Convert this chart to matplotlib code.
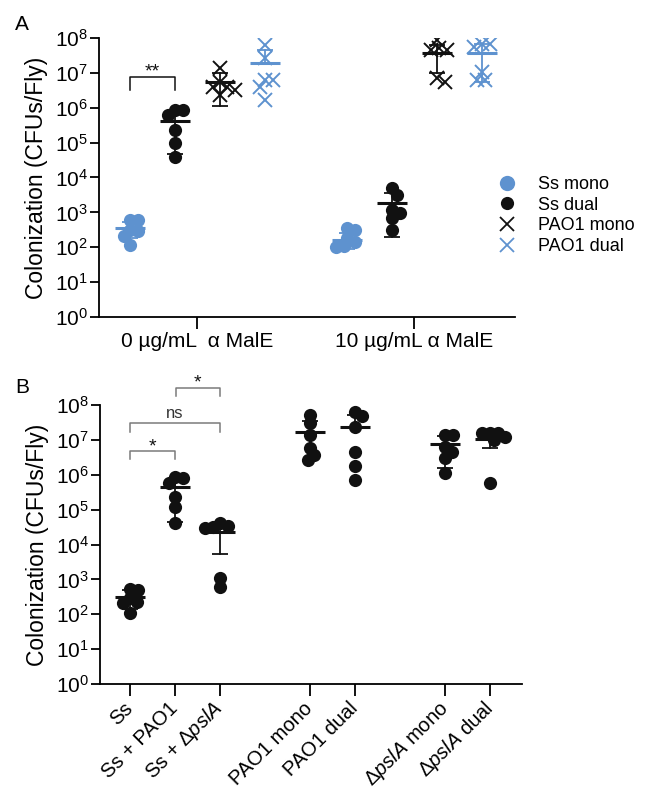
import numpy as np
import matplotlib
matplotlib.use('Agg')
import matplotlib.pyplot as plt
from matplotlib.lines import Line2D
from matplotlib.ticker import FixedLocator, NullLocator, FuncFormatter

plt.rcParams['font.family'] = ['Liberation Sans', 'DejaVu Sans']
plt.rcParams['mathtext.fontset'] = 'custom'
plt.rcParams['mathtext.rm'] = 'Liberation Sans'
plt.rcParams['mathtext.it'] = 'Liberation Sans:italic'
plt.rcParams['mathtext.bf'] = 'Liberation Sans:bold'

nan = float('nan')
BLUE = '#5e92cf'
BLACK = '#111111'

# ---- Panel A data (CFUs/fly), first list = 0 ug/mL, second = 10 ug/mL
a_conditions = ['0 µg/mL  α MalE', '10 µg/mL α MalE']
a_labels = ['Ss mono', 'Ss dual', 'PAO1 mono', 'PAO1 dual']
ss_mono = [[115, 310, 600, 600, 210, 300],
           [310, 350, 100, 140, 110, 180]]
ss_dual = [[8.5e5, 8.5e5, 6.0e5, 2.3e5, 1.0e5, 4.0e4],
           [5.0e3, 3.2e3, 7.0e2, 1.2e3, 9.6e2, 3.1e2]]
pao1_mono = [[1.35e7, 4.0e6, 4.0e6, 2.3e6, 3.2e6, 5.6e6],
             [8.7e7, 5.2e7, 4.5e7, 4.5e7, 7.0e6, 5.5e6]]
pao1_dual = [[6.3e7, 2.6e7, 6.3e6, 6.3e6, 4.0e6, 1.7e6],
             [6.7e7, 6.7e7, 5.5e7, 6.3e6, 1.05e7, 6.3e6]]
# mean line and error bar ends as drawn (nan = no bar)
a_mean = [[350, 4.2e5, 5.6e6, 1.9e7], [160, 1.9e3, 3.6e7, 3.6e7]]
a_lo = [[180, 4.7e4, 1.15e6, nan], [90, 2.0e2, 1.0e7, 5.6e6]]
a_hi = [[520, 7.6e5, 1.0e7, 4.5e7], [260, 3.6e3, 6.3e7, 6.6e7]]

# ---- Panel B data
b_labels = ['Ss', 'Ss + PAO1', r'Ss + $\mathit{\Delta pslA}$', 'PAO1 mono',
            'PAO1 dual', r'$\mathit{\Delta pslA}$ mono', r'$\mathit{\Delta pslA}$ dual']
b_values = [
    [110, 295, 500, 530, 210, 225],
    [8.1e5, 8.7e5, 5.8e5, 2.3e5, 1.2e5, 4.1e4],
    [4.2e4, 3.5e4, 3.0e4, 3.2e4, 1.1e3, 6.0e2],
    [5.1e7, 3.0e7, 1.4e7, 5.9e6, 3.7e6, 2.6e6],
    [4.8e7, 6.3e7, 2.3e7, 4.5e6, 1.8e6, 7.0e5],
    [1.4e7, 1.4e7, 6.3e6, 4.5e6, 3.0e6, 1.1e6],
    [1.6e7, 1.6e7, 1.6e7, 1.0e7, 1.2e7, 5.8e5],
]
b_mean = [320, 4.4e5, 2.3e4, 1.7e7, 2.4e7, 7.6e6, 1.04e7]
b_lo = [140, 4.5e4, 5.2e3, nan, nan, 1.6e6, 5.7e6]
b_hi = [500, 7.5e5, 4.0e4, 3.5e7, 5.1e7, 1.3e7, 1.6e7]
b_pos = [0, 1, 2, 4, 5, 7, 8]

W, H = 650, 793
fig = plt.figure(figsize=(W / 100, H / 100), dpi=100)


def box(l, r, b, t):
    return [l / W, 1 - b / H, (r - l) / W, (b - t) / H]


def style_axis(ax):
    ax.set_yscale('log')
    ax.set_ylim(1, 1e8)
    ax.spines['top'].set_visible(False)
    ax.spines['right'].set_visible(False)
    for s in ['left', 'bottom']:
        ax.spines[s].set_linewidth(1.3)
    ax.yaxis.set_major_locator(FixedLocator([10.0 ** k for k in range(9)]))
    ax.yaxis.set_minor_locator(NullLocator())
    ax.yaxis.set_major_formatter(FuncFormatter(
        lambda v, p: r'$\mathregular{10^{%d}}$' % round(np.log10(v))))
    ax.tick_params(axis='y', length=6.5, width=1.3, pad=1.5, labelsize=15)
    ax.tick_params(axis='x', length=8.5, width=1.3, pad=2, labelsize=15)
    ax.set_ylabel('Colonization (CFUs/Fly)', fontsize=16.5, labelpad=5)


def swarm(ax, x0, vals, diam):
    pts = ax.transData.transform(np.column_stack([np.full(len(vals), x0), vals]))
    ypx = pts[:, 1]
    ppu = ax.transData.transform([[1, 1]])[0, 0] - ax.transData.transform([[0, 1]])[0, 0]
    cands = [0.0]
    for k in range(1, 20):
        cands += [k * 1.0, -k * 1.0]
    placed, offs = [], np.zeros(len(vals))
    for i in np.argsort(-np.asarray(vals)):
        best, bestd = 0.0, -1
        for c in cands:
            d = min([np.hypot(c - ox, ypx[i] - oy) for ox, oy in placed] + [1e9])
            if d >= diam:
                best = c
                break
            if d > bestd:
                best, bestd = c, d
        placed.append((best, ypx[i]))
        offs[i] = best / ppu
    return x0 + offs


def draw_group(ax, x, vals, mean, lo, hi, color, marker):
    if marker == 'o':
        xs = swarm(ax, x, vals, 8)
        ax.plot(xs, vals, 'o', ms=9.5, color=color, mec=color, mew=0, zorder=3)
    else:
        xs = swarm(ax, x, vals, 8)
        ax.plot(xs, vals, 'x', ms=10, mew=1.4, color=color, zorder=3)
    ax.plot([x - 0.34, x + 0.34], [mean, mean], color=color, lw=2.2,
            solid_capstyle='butt', zorder=4)
    bottom = mean if np.isnan(lo) else lo
    ax.plot([x, x], [bottom, hi], color=color, lw=1.3, zorder=4)
    for end in [lo, hi]:
        if not np.isnan(end):
            ax.plot([x - 0.17, x + 0.17], [end, end], color=color, lw=1.3,
                    solid_capstyle='butt', zorder=4)


def bracket(ax, x1, x2, leg, top, text, color, size):
    ax.plot([x1, x1, x2, x2], [10 ** leg, 10 ** top, 10 ** top, 10 ** leg],
            color=color, lw=1.1, clip_on=False)
    ty = top + 0.0 if text != 'ns' else top + 0.14
    ax.text((x1 + x2) / 2, 10 ** ty, text, ha='center', va='baseline',
            fontsize=size, color=BLACK if text != 'ns' else '#333333')


# ---------------- Panel A
axA = fig.add_axes(box(99, 515, 317, 38))
style_axis(axA)
axA.set_xlim(-0.689, 8.556)
offset = 4.82
axA.set_xticks([c * offset + 1.5 for c in range(2)])
axA.set_xticklabels(a_conditions)
series = [(ss_mono, BLUE, 'o'), (ss_dual, BLACK, 'o'),
          (pao1_mono, BLACK, 'x'), (pao1_dual, BLUE, 'x')]
for c in range(2):
    for i, (data, col, mk) in enumerate(series):
        draw_group(axA, c * offset + i, data[c], a_mean[c][i], a_lo[c][i],
                   a_hi[c][i], col, mk)
bracket(axA, 0, 1, 6.51, 6.89, '**', BLACK, 14)

handles = [Line2D([], [], ls='none', marker='o', ms=11, color=BLUE, mew=0),
           Line2D([], [], ls='none', marker='o', ms=9.5, color=BLACK, mew=0),
           Line2D([], [], ls='none', marker='x', ms=10, mew=1.3, color=BLACK),
           Line2D([], [], ls='none', marker='x', ms=10, mew=1.3, color=BLUE)]
axA.legend(handles, a_labels, loc='upper left', bbox_to_anchor=(498 / W, 1 - 176 / H),
           bbox_transform=fig.transFigure, frameon=False, borderpad=0,
           borderaxespad=0, handlelength=1.0, handletextpad=1.2,
           labelspacing=0.2, fontsize=13)

# ---------------- Panel B
axB = fig.add_axes(box(100, 522, 684, 405))
style_axis(axB)
axB.set_xlim(-0.667, 8.711)
axB.set_xticks(b_pos)
axB.set_xticklabels(b_labels)
axB.tick_params(axis='x', pad=7, labelsize=14.5)
for lbl in axB.get_xticklabels():
    lbl.set_rotation(45)
    lbl.set_ha('right')
    lbl.set_va('center')
    lbl.set_rotation_mode('anchor')
for k, x in enumerate(b_pos):
    draw_group(axB, x, b_values[k], b_mean[k], b_lo[k], b_hi[k], BLACK, 'o')
GRAY = '#7a7a7a'
bracket(axB, 0, 1, 6.45, 6.68, '*', GRAY, 14)
bracket(axB, 0, 2, 7.23, 7.48, 'ns', GRAY, 12)
bracket(axB, 1.02, 2, 8.26, 8.49, '*', GRAY, 14)

fig.text(15 / W, 1 - 30 / H, 'A', fontsize=15, va='baseline')
fig.text(15 / W, 1 - 393 / H, 'B', fontsize=15, va='baseline')

fig.savefig('out.png', dpi=100)
